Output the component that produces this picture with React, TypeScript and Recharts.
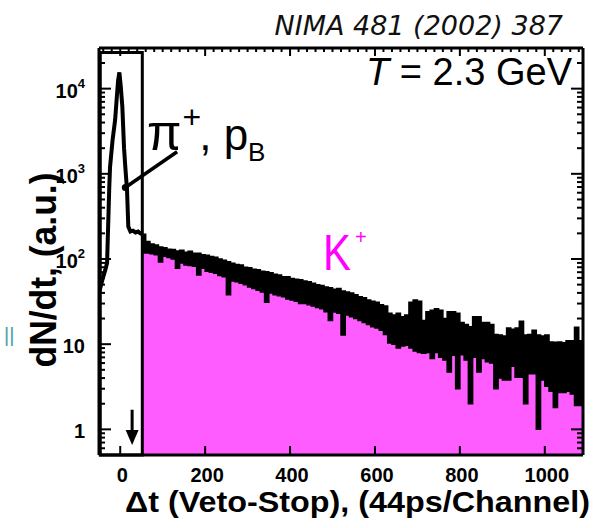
import React from 'react';
import {
  ComposedChart,
  XAxis,
  YAxis,
  Area,
  Line,
  ReferenceArea,
  ReferenceLine,
  ReferenceDot,
} from 'recharts';

// ---- data ----
const peakChannels = [-50, -45, -42, -35, -31, -26, -24, -18, -12, -8, -5, -2, 1, 5, 9, 12, 16, 19, 24, 30, 36, 42, 47, 52];
const peakCounts = [40, 50, 57, 75, 90, 650, 1200, 2500, 4300, 8000, 12500, 15500, 11000, 6100, 2000, 1200, 650, 240, 210, 215, 205, 210, 200, 195];

const kaonChannels = [
  52, 60, 70, 80, 90, 100, 110, 120, 130, 140,
  150, 160, 170, 180, 190, 200, 210, 220, 230, 240,
  250, 260, 270, 280, 290, 300, 310, 320, 330, 340,
  350, 360, 370, 380, 390, 400, 410, 420, 430, 440,
  450, 460, 470, 480, 490, 500, 510, 520, 530, 540,
  550, 560, 570, 580, 590, 600, 610, 620, 630, 640,
  650, 660, 670, 680, 690, 700, 710, 720, 730, 740,
  750, 760, 770, 780, 790, 800, 810, 820, 830, 840,
  850, 860, 870, 880, 890, 900, 910, 920, 930, 940,
  950, 960, 970, 980, 990, 1000, 1010, 1020, 1030, 1040,
  1050, 1060, 1070, 1080, 1090,
];
const kaonUpper = [
  195, 160, 150, 146, 138, 136, 130, 129, 124, 127,
  120, 123, 117, 117, 112, 111, 107, 105, 100, 97,
  93, 89, 86, 85, 80, 79, 76, 75, 72, 71,
  69, 66, 65, 62, 62, 59, 58, 57, 55, 54,
  52, 50, 49, 47, 46, 44, 45, 42, 41, 40,
  38, 36, 35, 33, 32, 31, 29, 28, 23, 22,
  23, 21, 22, 31, 33, 32, 19, 24, 25, 26,
  25, 20, 24, 24, 23, 18, 17, 16, 21, 21,
  18, 18, 17, 13, 12.8, 12.5, 15.5, 15, 15.5, 18.6,
  12.8, 13, 14.6, 12.8, 12.5, 12.8, 10.6, 10.5, 10.6, 10.4,
  11, 11, 15.8, 11, 11,
];
const kaonLower = [
  118, 118, 115, 112, 92, 108, 104, 100, 78, 90,
  85, 84, 82, 65, 78, 72, 70, 68, 64, 62,
  38, 55, 54, 52, 50, 47, 45, 43, 41, 31,
  40, 38, 37, 36, 34, 33, 32, 30, 30, 29,
  28, 27, 26, 24, 19, 23.8, 23, 12.8, 22, 21,
  20, 19, 18, 17, 16, 15.5, 14.6, 13, 10.3, 10,
  9, 9.5, 9.7, 9, 8.3, 8, 7.8, 8, 6.8, 8,
  7, 6.5, 4.7, 7.4, 3.0, 7.5, 6.5, 2.0, 7, 4.7,
  6.8, 6.2, 6.0, 3.0, 4.0, 3.8, 3.8, 5.5, 4.1, 4.1,
  2.0, 4.5, 4.5, 1.0, 3.8, 3.2, 2.8, 1.8, 2.7, 2.7,
  2.8, 2.6, 1.9, 1.9, 1.9,
];

const xMajorTicks = [0, 200, 400, 600, 800, 1000];
const yDecadeTicks = [1, 10, 100, 1000, 10000];
const yDecadeBase = ['1', '10', '10', '10', '10'];
const yDecadeExp = ['', '', '2', '3', '4'];

const X_DOMAIN: [number, number] = [-50, 1090];
const Y_DOMAIN: [number, number] = [0.5, 30000];

// ---- build table ----
type Row = { t: number; pk?: number; lo?: number; hi?: number };
const rowMap = new Map<number, Row>();
peakChannels.forEach((t, i) => {
  const r = rowMap.get(t) || { t };
  r.pk = peakCounts[i];
  rowMap.set(t, r);
});
kaonChannels.forEach((t, i) => {
  const r = rowMap.get(t) || { t };
  r.lo = kaonLower[i];
  r.hi = kaonUpper[i];
  rowMap.set(t, r);
});
const table: Row[] = Array.from(rowMap.values()).sort((a, b) => a.t - b.t);

const xMinorTicks: number[] = [];
for (let v = -40; v <= 1080; v += 20) xMinorTicks.push(v);
const yAllTicks: number[] = [];
[0.1, 1, 10, 100, 1000, 10000].forEach((d) => {
  for (let m = 1; m <= 9; m++) {
    const v = Math.round(m * d * 100) / 100;
    if (v >= 0.5 && v <= 30000) yAllTicks.push(v);
  }
});

const FONT = "'Liberation Sans', Arial, Helvetica, sans-serif";
const KAON_PINK = '#ff5cff';

const BottomTick = (props: any) => {
  const { x, y, payload } = props;
  return (
    <g>
      <line x1={x} x2={x} y1={y} y2={y - 9} stroke="#000" strokeWidth={2} />
      <text x={x + 2} y={y + 27} textAnchor="middle" fontFamily={FONT} fontWeight={700} fontSize={20} fill="#000">
        {payload.value}
      </text>
    </g>
  );
};

const TopTick = (props: any) => {
  const { x, y, payload } = props;
  const major = xMajorTicks.includes(payload.value);
  return <line x1={x} x2={x} y1={y} y2={y + (major ? 8 : 4)} stroke="#000" strokeWidth={2} />;
};

const LeftTick = (props: any) => {
  const { x, y, payload } = props;
  const idx = yDecadeTicks.indexOf(payload.value);
  const major = idx >= 0;
  return (
    <g>
      <line x1={x} x2={x + (major ? 12 : 6)} y1={y} y2={y} stroke="#000" strokeWidth={2} />
      {major && (
        <text x={85} y={y + 9} textAnchor="end" fontFamily={FONT} fontWeight={700} fontSize={20} fill="#000">
          {yDecadeBase[idx]}
          {yDecadeExp[idx] && (
            <tspan dy={-10} fontSize={13}>
              {yDecadeExp[idx]}
            </tspan>
          )}
        </text>
      )}
    </g>
  );
};

const RightTick = (props: any) => {
  const { x, y, payload } = props;
  const major = yDecadeTicks.includes(payload.value);
  return <line x1={x} x2={x - (major ? 12 : 6)} y1={y} y2={y} stroke="#000" strokeWidth={2} />;
};

const ArrowHead = (props: any) => {
  const { cx, cy } = props;
  return <path d={`M${cx - 6.5},${cy - 15} L${cx + 6.5},${cy - 15} L${cx},${cy} Z`} fill="#000" />;
};

const bandKey = (d: Row) => (d.lo != null && d.hi != null ? [d.lo, d.hi] : null);

export default function App() {
  return (
    <div style={{ position: 'absolute', left: 0, top: 0, width: 607, height: 528, background: '#fff' }}>
      <ComposedChart width={607} height={528} data={table} margin={{ top: 0, right: 0, bottom: 0, left: 0 }}>
        <XAxis
          xAxisId={0}
          dataKey="t"
          type="number"
          domain={X_DOMAIN}
          allowDataOverflow
          ticks={xMajorTicks}
          interval={0}
          height={73}
          tickSize={0}
          tickMargin={0}
          tickLine={false}
          axisLine={{ stroke: '#000', strokeWidth: 3 }}
          tick={BottomTick}
        />
        <XAxis
          xAxisId="top"
          orientation="top"
          dataKey="t"
          type="number"
          domain={X_DOMAIN}
          allowDataOverflow
          ticks={xMinorTicks}
          interval={0}
          height={48}
          tickSize={0}
          tickMargin={0}
          tickLine={false}
          axisLine={{ stroke: '#000', strokeWidth: 3 }}
          tick={TopTick}
        />
        <YAxis
          yAxisId={0}
          type="number"
          scale="log"
          domain={Y_DOMAIN}
          allowDataOverflow
          ticks={yAllTicks}
          interval={0}
          width={99}
          tickSize={0}
          tickMargin={0}
          tickLine={false}
          axisLine={{ stroke: '#000', strokeWidth: 3 }}
          tick={LeftTick}
        />
        <YAxis
          yAxisId="right"
          orientation="right"
          type="number"
          scale="log"
          domain={Y_DOMAIN}
          allowDataOverflow
          ticks={yAllTicks}
          interval={0}
          width={24}
          tickSize={0}
          tickMargin={0}
          tickLine={false}
          axisLine={{ stroke: '#000', strokeWidth: 3 }}
          tick={RightTick}
        />
        <Area
          type="stepAfter"
          dataKey="lo"
          baseValue={0.5}
          stroke="none"
          fill={KAON_PINK}
          fillOpacity={1}
          isAnimationActive={false}
          dot={false}
          activeDot={false}
        />
        <Area
          type="stepAfter"
          dataKey={bandKey as any}
          stroke="#000"
          strokeWidth={1.5}
          fill="#000"
          fillOpacity={1}
          isAnimationActive={false}
          dot={false}
          activeDot={false}
        />
        <Line
          type="linear"
          dataKey="pk"
          stroke="#000"
          strokeWidth={4}
          dot={false}
          activeDot={false}
          isAnimationActive={false}
        />
        <ReferenceArea x1={-47} x2={52} y1={0.5} y2={26500} fill="none" fillOpacity={0} stroke="#000" strokeWidth={3} />
        <ReferenceLine segment={[{ x: 12, y: 690 }, { x: 134, y: 1815 }]} stroke="#000" strokeWidth={3.5} />
        <ReferenceDot x={12} y={690} r={3.5} fill="#000" stroke="none" />
        <ReferenceLine segment={[{ x: 28, y: 1.7 }, { x: 28, y: 0.9 }]} stroke="#000" strokeWidth={3} />
        <ReferenceDot x={28} y={0.656} r={1} shape={ArrowHead} />
      </ComposedChart>
      <svg
        width={607}
        height={528}
        style={{ position: 'absolute', left: 0, top: 0, pointerEvents: 'none' }}
      >
        <text x={563} y={35} textAnchor="end" fontFamily="'DejaVu Sans', sans-serif" fontStyle="italic" fontSize={27} fill="#111">
          NIMA 481 (2002) 387
        </text>
        <text x={572} y={85} textAnchor="end" fontFamily={FONT} fontSize={38} fill="#000">
          <tspan fontStyle="italic">T</tspan> = 2.3 GeV
        </text>
        <text x={147} y={150} fontFamily={FONT} fontSize={50} fill="#000">
          π
          <tspan dx={1} dy={-22} fontSize={32}>+</tspan>
          <tspan dx={-2} dy={22} fontSize={44}>, p</tspan>
          <tspan dy={11} fontSize={26}>B</tspan>
        </text>
        <text x={323} y={270} fontFamily={FONT} fontSize={50} fill="#ff00ff" textLength={28} lengthAdjust="spacingAndGlyphs">
          K
        </text>
        <text x={355} y={244} fontFamily={FONT} fontSize={20} fill="#ff00ff">
          +
        </text>
        <text
          x={125}
          y={512}
          fontFamily={FONT}
          fontWeight={700}
          fontSize={30}
          fill="#000"
          textLength={465}
          lengthAdjust="spacingAndGlyphs"
        >
          Δt (Veto-Stop), (44ps/Channel)
        </text>
        <text
          x={0}
          y={0}
          transform="translate(56,270) rotate(-90)"
          textAnchor="middle"
          fontFamily={FONT}
          fontWeight={700}
          fontSize={36}
          fill="#000"
          textLength={195}
          lengthAdjust="spacingAndGlyphs"
        >
          dN/dt, (a.u.)
        </text>
        <text x={4} y={342} fontFamily={FONT} fontSize={20} fill="#4e9ea6">
          ||
        </text>
      </svg>
    </div>
  );
}
